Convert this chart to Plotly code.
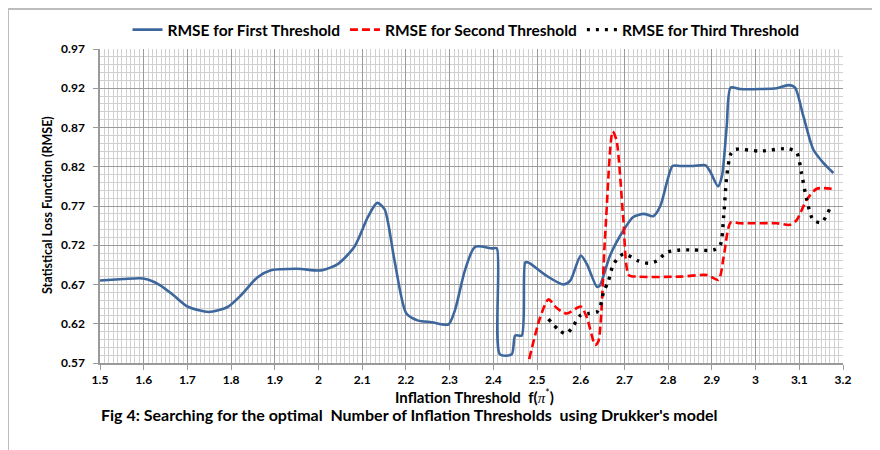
import plotly.graph_objects as go

# ---- data ----
x_first = [1.5, 1.554, 1.592, 1.611, 1.638, 1.669, 1.70, 1.749, 1.791, 1.822, 1.86, 1.891, 1.952,
           2.006, 2.044, 2.082, 2.113, 2.134, 2.151, 2.174, 2.201, 2.228, 2.259, 2.297, 2.312, 2.335,
           2.358, 2.397, 2.408, 2.415, 2.442, 2.45, 2.465, 2.473, 2.48, 2.522, 2.56, 2.576, 2.6,
           2.614, 2.637, 2.644, 2.667, 2.7, 2.72, 2.744, 2.766, 2.782, 2.797, 2.81, 2.828, 2.858,
           2.885, 2.896, 2.914, 2.923, 2.934, 2.943, 2.965, 3.01, 3.048, 3.075, 3.09, 3.109, 3.132,
           3.155, 3.178]
y_first = [0.675, 0.677, 0.678, 0.676, 0.669, 0.656, 0.642, 0.635, 0.641, 0.656, 0.679, 0.688, 0.690,
           0.688, 0.696, 0.718, 0.756, 0.774, 0.766, 0.700, 0.633, 0.624, 0.622, 0.619, 0.637, 0.688,
           0.718, 0.716, 0.716, 0.581, 0.581, 0.605, 0.605, 0.698, 0.698, 0.681, 0.670, 0.675, 0.707,
           0.696, 0.667, 0.669, 0.707, 0.741, 0.756, 0.760, 0.757, 0.770, 0.800, 0.821, 0.821, 0.821,
           0.822, 0.814, 0.795, 0.808, 0.872, 0.921, 0.919, 0.919, 0.920, 0.924, 0.921, 0.885, 0.842,
           0.825, 0.812]

x_second = [2.482, 2.507, 2.526, 2.545, 2.568, 2.6, 2.614, 2.633, 2.64, 2.656, 2.673, 2.682, 2.697,
            2.71, 2.728, 2.827, 2.889, 2.915, 2.927, 2.943, 2.965, 3.048, 3.079, 3.094, 3.117, 3.14,
            3.174]
y_second = [0.575, 0.628, 0.651, 0.640, 0.633, 0.642, 0.628, 0.593, 0.597, 0.735, 0.865, 0.853, 0.756,
            0.682, 0.680, 0.680, 0.682, 0.676, 0.705, 0.749, 0.748, 0.748, 0.746, 0.752, 0.778, 0.792,
            0.792]

x_third = [2.526, 2.549, 2.566, 2.579, 2.6, 2.618, 2.637, 2.644, 2.652, 2.663, 2.675, 2.698, 2.732,
           2.755, 2.774, 2.797, 2.827, 2.858, 2.904, 2.919, 2.927, 2.934, 2.943, 2.953, 3.01, 3.075,
           3.094, 3.105, 3.117, 3.132, 3.151, 3.17]
y_third = [0.626, 0.6125, 0.607, 0.614, 0.631, 0.633, 0.635, 0.641, 0.660, 0.674, 0.696, 0.709, 0.700,
           0.697, 0.700, 0.711, 0.714, 0.714, 0.714, 0.720, 0.757, 0.808, 0.836, 0.842, 0.840, 0.843,
           0.838, 0.812, 0.778, 0.752, 0.749, 0.767]

x_ticks = [1.5, 1.6, 1.7, 1.8, 1.9, 2.0, 2.1, 2.2, 2.3, 2.4, 2.5, 2.6, 2.7, 2.8, 2.9, 3.0, 3.1, 3.2]
x_tick_labels = ["1.5", "1.6", "1.7", "1.8", "1.9", "2", "2.1", "2.2", "2.3", "2.4", "2.5", "2.6",
                 "2.7", "2.8", "2.9", "3", "3.1", "3.2"]
y_ticks = [0.57, 0.62, 0.67, 0.72, 0.77, 0.82, 0.87, 0.92, 0.97]
y_tick_labels = ["0.57", "0.62", "0.67", "0.72", "0.77", "0.82", "0.87", "0.92", "0.97"]

FONT = "Lato, Liberation Sans, Arial, sans-serif"

fig = go.Figure()
fig.add_trace(go.Scatter(x=x_first, y=y_first, mode="lines", name="<b>RMSE for First Threshold</b>",
                         line=dict(color="#3D679C", width=2.6, shape="spline", smoothing=0.7)))
fig.add_trace(go.Scatter(x=x_second, y=y_second, mode="lines", name="<b>RMSE for Second Threshold</b>",
                         line=dict(color="#FF0000", width=2.6, dash="8px,4px", shape="spline", smoothing=0.7)))
fig.add_trace(go.Scatter(x=x_third, y=y_third, mode="lines", name="<b>RMSE for Third Threshold</b>",
                         line=dict(color="#000000", width=3.4, dash="3px,6px", shape="spline", smoothing=0.7)))

# page has an 8px body margin: page px = figure px + 8
OFF = 8
W, H = 872, 442
L, T = 100 - OFF, 49 - OFF
PW, PH = 743, 314
R, B = W - L - PW, H - T - PH

def px_x(p):  # page px -> paper x
    return (p - OFF - L) / PW

def px_y(p):  # page px -> paper y
    return (T + PH - (p - OFF)) / PH

fig.update_layout(
    width=W, height=H,
    margin=dict(l=L, r=R, t=T, b=B, autoexpand=False),
    paper_bgcolor="white", plot_bgcolor="white",
    font=dict(family=FONT, size=12, color="#000000"),
    showlegend=True,
    legend=dict(orientation="h", x=px_x(466), xanchor="center", y=px_y(30), yanchor="middle",
                font=dict(family=FONT, size=15.5, color="#000"), itemwidth=30,
                bgcolor="rgba(0,0,0,0)", tracegroupgap=0),
    xaxis=dict(range=[1.5, 3.2], tickvals=x_ticks, ticktext=["<b>%s</b>" % t for t in x_tick_labels],
               showgrid=True, gridcolor="#9a9a9a", gridwidth=1,
               minor=dict(dtick=0.01, tick0=1.5, showgrid=True, gridcolor="#d0d0d0", gridwidth=1),
               ticks="outside", ticklen=5, tickcolor="#9a9a9a",
               showline=True, linecolor="#9a9a9a", linewidth=1.5,
               zeroline=False, tickfont=dict(family=FONT, size=12)),
    yaxis=dict(range=[0.57, 0.97], tickvals=y_ticks, ticktext=["<b>%s</b>" % t for t in y_tick_labels],
               showgrid=True, gridcolor="#9a9a9a", gridwidth=1,
               minor=dict(dtick=0.01, tick0=0.57, showgrid=True, gridcolor="#d0d0d0", gridwidth=1),
               ticks="outside", ticklen=5, tickcolor="#9a9a9a", ticklabelstandoff=6,
               showline=True, linecolor="#9a9a9a", linewidth=1.5,
               zeroline=False, tickfont=dict(family=FONT, size=12)),
)

# axis titles and caption as annotations for exact placement
fig.add_annotation(text="<b>Inflation Threshold&nbsp; f(</b><span style='font-family:Liberation Serif, serif'><i>π</i></span><sup>*</sup><b>)</b>",
                   xref="paper", yref="paper", x=px_x(474), y=px_y(396), xanchor="center", yanchor="middle",
                   showarrow=False, font=dict(family=FONT, size=15, color="#000"))
fig.add_annotation(text="<b>Statistical Loss Function (RMSE)</b>", textangle=-90,
                   xref="paper", yref="paper", x=px_x(47), y=px_y(205), xanchor="center", yanchor="middle",
                   showarrow=False, font=dict(family=FONT, size=12.5, color="#000"))
fig.add_annotation(text="<b>Fig 4: Searching for the optimal&nbsp; Number of Inflation Thresholds&nbsp; using Drukker's model</b>",
                   xref="paper", yref="paper", x=px_x(99), y=px_y(414), xanchor="left", yanchor="middle",
                   showarrow=False, font=dict(family=FONT, size=16, color="#000"))

fig.add_shape(type="rect", xref="paper", yref="paper",
              x0=px_x(8), x1=px_x(900), y0=px_y(470), y1=px_y(9),
              line=dict(color="#bdbdbd", width=2), fillcolor="rgba(0,0,0,0)", layer="below")

fig.write_html("out.html")
